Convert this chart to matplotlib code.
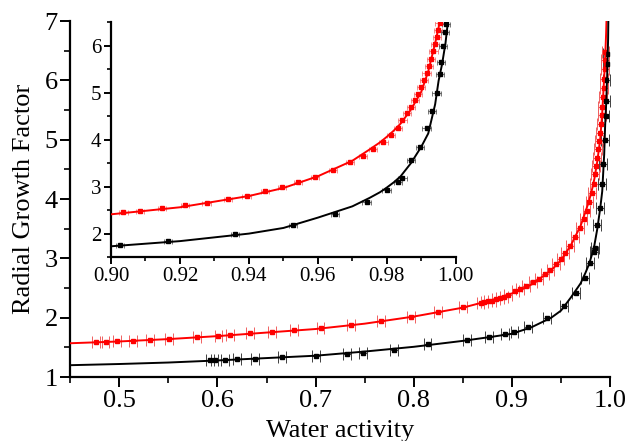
import numpy as np
import matplotlib
matplotlib.use("Agg")
import matplotlib.pyplot as plt
from matplotlib.ticker import MultipleLocator

plt.rcParams['font.family'] = ['Liberation Serif', 'DejaVu Serif']

# fitted curves
aw_fit = [0.45, 0.50, 0.55, 0.60, 0.65, 0.70, 0.75, 0.80, 0.85, 0.88, 0.90, 0.92,
          0.94, 0.95, 0.96, 0.97, 0.975, 0.978, 0.98, 0.982, 0.984, 0.987, 0.99,
          0.992, 0.994, 0.995, 0.996, 0.997, 0.998, 0.999]
red_fit = [1.57, 1.60, 1.64, 1.69, 1.75, 1.81, 1.90, 2.02, 2.17, 2.30, 2.41, 2.56,
           2.80, 2.97, 3.22, 3.55, 3.79, 3.94, 4.06, 4.19, 4.34, 4.64, 5.02,
           5.45, 6.05, 6.38, 6.80, 7.40, 8.30, 9.50]
black_fit = [1.20, 1.22, 1.245, 1.28, 1.32, 1.36, 1.43, 1.51, 1.61, 1.68, 1.73, 1.84,
             2.00, 2.12, 2.34, 2.58, 2.76, 2.88, 2.98, 3.09, 3.22, 3.50, 3.85,
             4.13, 4.75, 5.25, 5.60, 6.05, 6.70, 8.00]

# measured points
red_aw = [0.476, 0.486, 0.498, 0.514, 0.531, 0.551, 0.579, 0.601, 0.613, 0.633,
          0.656, 0.678, 0.705, 0.736, 0.767, 0.797, 0.825, 0.850, 0.868, 0.872,
          0.876, 0.880, 0.884, 0.888, 0.892, 0.896, 0.9036, 0.9084, 0.9147, 0.9214,
          0.9277, 0.934, 0.9393, 0.9446, 0.9495, 0.9543, 0.9591, 0.9644, 0.9693,
          0.973, 0.976, 0.979, 0.9813, 0.9833, 0.9845, 0.9858, 0.9870, 0.9881,
          0.9891, 0.9900, 0.9908, 0.9915, 0.9922, 0.9929, 0.9935, 0.9940, 0.9945,
          0.9949, 0.9953]
red_gf = [1.59, 1.595, 1.60, 1.615, 1.63, 1.645, 1.675, 1.70, 1.71, 1.735,
          1.76, 1.785, 1.82, 1.87, 1.94, 2.02, 2.10, 2.18, 2.25, 2.26,
          2.28, 2.29, 2.31, 2.33, 2.35, 2.38, 2.45, 2.49, 2.54, 2.60,
          2.66, 2.73, 2.81, 2.90, 2.99, 3.09, 3.21, 3.36, 3.52,
          3.66, 3.80, 3.95, 4.10, 4.25, 4.42, 4.56, 4.70, 4.84,
          4.98, 5.12, 5.27, 5.41, 5.56, 5.72, 5.88, 6.03, 6.19,
          6.34, 6.48]
black_aw = [0.592, 0.597, 0.608, 0.620, 0.638, 0.666, 0.700, 0.732, 0.748, 0.780,
            0.814, 0.854, 0.877, 0.893, 0.9026, 0.9166, 0.936, 0.9528, 0.965,
            0.9741, 0.9799, 0.9832, 0.9845, 0.9871, 0.9896, 0.9915, 0.993, 0.9944,
            0.9954, 0.9958, 0.9963, 0.9968, 0.9972]
black_gf = [1.285, 1.29, 1.29, 1.30, 1.31, 1.33, 1.36, 1.39, 1.41, 1.46,
            1.55, 1.63, 1.68, 1.72, 1.76, 1.85, 1.99, 2.19, 2.42,
            2.67, 2.92, 3.10, 3.18, 3.56, 3.85, 4.25, 4.60, 5.00,
            5.40, 5.65, 6.00, 6.28, 6.45]
err_main = 0.004
err_inset = 0.0012

fig = plt.figure(figsize=(6.27, 4.41), dpi=100)
ax = fig.add_axes([0.112, 0.145, 0.861, 0.807])
ins = fig.add_axes([0.177, 0.417, 0.550, 0.533])


def style(a, size, major, minor):
    for s in ['top', 'right']:
        a.spines[s].set_visible(False)
    for s in ['left', 'bottom']:
        a.spines[s].set_linewidth(1.6)
    a.tick_params(which='major', direction='out', length=major, width=1.4, labelsize=size, pad=2)
    a.tick_params(which='minor', direction='out', length=minor, width=1.2)


for a, err, ms, cs, ew in [(ax, err_main, 3, 4.5, 0.7), (ins, err_inset, 2.2, 1.8, 0.5)]:
    a.errorbar(red_aw, red_gf, xerr=err, fmt='s', color='red', ms=ms, elinewidth=ew,
               capsize=cs, capthick=ew, ecolor='#f06060', zorder=3)
    a.errorbar(black_aw, black_gf, xerr=err, fmt='s', color='black', ms=ms, elinewidth=ew,
               capsize=cs, capthick=ew, ecolor='#404040', zorder=3)
    a.plot(aw_fit, red_fit, color='red', lw=1.4, zorder=4)
    a.plot(aw_fit, black_fit, color='black', lw=1.4, zorder=4)

ax.set_xlim(0.45, 1.0)
ax.set_ylim(1, 7)
ax.xaxis.set_major_locator(MultipleLocator(0.1))
ax.xaxis.set_minor_locator(MultipleLocator(0.05))
ax.yaxis.set_major_locator(MultipleLocator(1))
ax.yaxis.set_minor_locator(MultipleLocator(0.5))
ax.xaxis.set_major_formatter(plt.FormatStrFormatter('%.1f'))
style(ax, 19, 7, 4)
ax.set_xlabel('Water activity', fontsize=19, labelpad=6)
ax.set_ylabel('Radial Growth Factor', fontsize=19, labelpad=7)

ins.set_xlim(0.90, 1.00)
ins.set_ylim(1.5, 6.5)
ins.xaxis.set_major_locator(MultipleLocator(0.02))
ins.xaxis.set_minor_locator(MultipleLocator(0.01))
ins.yaxis.set_major_locator(MultipleLocator(1))
ins.yaxis.set_minor_locator(MultipleLocator(0.5))
ins.xaxis.set_major_formatter(plt.FormatStrFormatter('%.2f'))
style(ins, 15, 5, 3)
ins.patch.set_alpha(0)

fig.savefig('out.png', dpi=100)
